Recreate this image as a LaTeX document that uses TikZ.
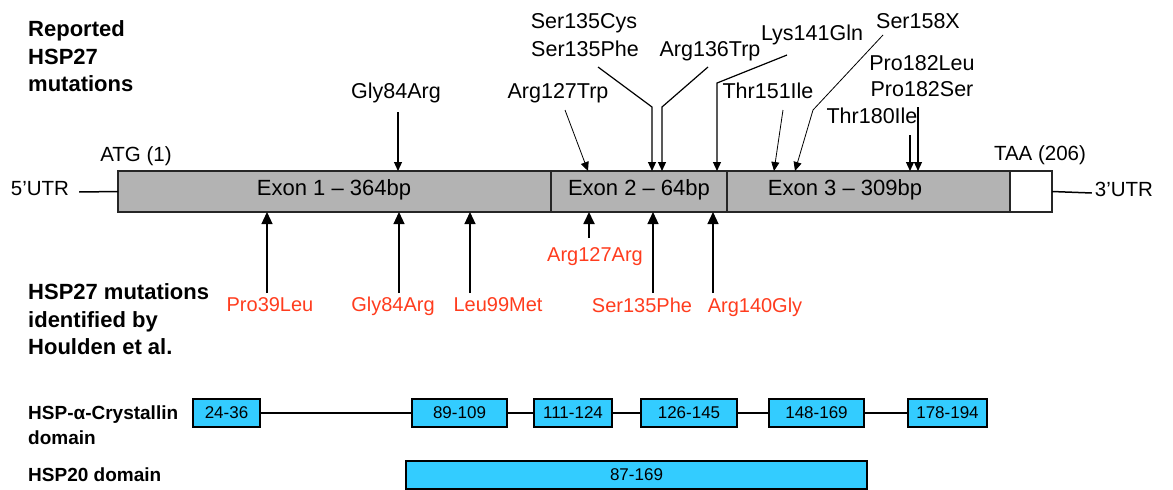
\documentclass[tikz,border=0pt]{standalone}
\usepackage{fontspec}
\setmainfont{Liberation Sans}
\usetikzlibrary{arrows.meta}
\definecolor{exgray}{RGB}{179,179,179}
\definecolor{domblue}{RGB}{51,204,255}
\definecolor{mutred}{RGB}{255,60,30}
\begin{document}
\begin{tikzpicture}[x=1pt,y=-1pt,
  lab/.style={font=\fontsize{21.5}{25}\selectfont, inner sep=0pt, text height=0.716em, text depth=0pt},
  redlab/.style={font=\fontsize{20}{24}\selectfont, text=mutred, inner sep=0pt, text height=0.716em, text depth=0pt},
  exlab/.style={font=\fontsize{22}{25}\selectfont, inner sep=0pt, text height=0.716em, text depth=0pt},
  hd/.style={font=\bfseries\fontsize{22}{27.5}\selectfont, align=left, anchor=north west, inner sep=0pt},
  dhd/.style={font=\bfseries\fontsize{19}{25}\selectfont, align=left, anchor=north west, inner sep=0pt},
  exbox/.style={draw=black!85, line width=1.6pt, fill=exgray, minimum height=41pt, inner sep=0pt, outer sep=0pt},
  dbox/.style={draw=black, line width=1.5pt, fill=domblue, minimum height=28pt, inner sep=0pt, outer sep=0pt, font=\fontsize{17}{20}\selectfont},
  dn/.style={line width=1.2pt, -{Triangle[width=8pt,length=9pt]}},
  dnthin/.style={line width=0.8pt, -{Triangle[width=8pt,length=9pt]}},
  up/.style={line width=1.2pt, -{Triangle[width=11pt,length=12pt]}},
  conn/.style={line width=1.5pt}
]
\useasboundingbox (0,0) rectangle (1173,490);

% left headings
\node[hd] (rep) at (28,20.5) {Reported\\HSP27\\mutations};
\node[hd] (houl) at (28,283.5) {HSP27 mutations\\identified by\\Houlden et al.};
\node[dhd] (cryst) at (28,406) {HSP-α-Crystallin\\domain};
\node[font=\bfseries\fontsize{19}{25}\selectfont, anchor=west, inner sep=0pt, text height=0.716em, text depth=0pt] (h20) at (28,478) {HSP20 domain};

% gene bar
\node[exbox, minimum width=433pt] (ex1) at (334.5,191.5) {};
\node[exbox, minimum width=176pt] (ex2) at (639,191.5) {};
\node[exbox, minimum width=283pt] (ex3) at (868.5,191.5) {};
\node[exbox, minimum width=42pt, fill=white] (utrb) at (1031,191.5) {};
\node[exlab] (ex1t) at (334,192) {Exon 1 – 364bp};
\node[exlab] (ex2t) at (639,192) {Exon 2 – 64bp};
\node[exlab] (ex3t) at (845,192) {Exon 3 – 309bp};

\node[lab, font=\fontsize{20.5}{24}\selectfont] (u5) at (40,192) {5’UTR};
\node[lab, font=\fontsize{20.5}{24}\selectfont] (u3) at (1124,193) {3’UTR};
\draw[conn] ([xshift=10pt]u5.east) -- (ex1.west);
\draw[conn] (utrb.east) -- ([xshift=-3pt]u3.west);
\node[lab, font=\fontsize{20.5}{24}\selectfont] (atg) at (136,158) {ATG (1)};
\node[lab, font=\fontsize{20.5}{24}\selectfont] (taa) at (1040,157) {TAA (206)};

% reported mutations (top)
\node[lab] (g84t) at (396,95) {Gly84Arg};
\node[lab] (a127t) at (558,95) {Arg127Trp};
\node[lab] (s135c) at (584,25) {Ser135Cys};
\node[lab] (s135p) at (585,53) {Ser135Phe};
\node[lab] (a136) at (710,53) {Arg136Trp};
\node[lab] (l141) at (812,37) {Lys141Gln};
\node[lab] (s158) at (918,25) {Ser158X};
\node[lab] (t151) at (768,95) {Thr151Ile};
\node[lab] (p182l) at (922,67) {Pro182Leu};
\node[lab] (p182s) at (922,93) {Pro182Ser};
\node[lab] (t180) at (872,120) {Thr180Ile};

\coordinate (sg84) at (398,112);   \coordinate (eg84) at (398,171);
\coordinate (sa127) at (565,110);  \coordinate (ea127) at (588,171);
\coordinate (ss135) at (598,67);   \coordinate (bs135) at (652,107); \coordinate (es135) at (652,171);
\coordinate (sa136) at (708,67);   \coordinate (ba136) at (662,107); \coordinate (ea136) at (662,171);
\coordinate (sl141) at (787,55);   \coordinate (bl141) at (717,83);  \coordinate (el141) at (717,171);
\coordinate (ss158) at (883,35);   \coordinate (bs158) at (813,110); \coordinate (es158) at (795,171);
\coordinate (st151) at (783,110);  \coordinate (et151) at (774,171);
\coordinate (sp182) at (918,107);  \coordinate (ep182) at (918,171);
\coordinate (st180) at (910,135);  \coordinate (et180) at (910,171);

\draw[dn] (sg84) -- (eg84);
\draw[dnthin] (sa127) -- (ea127);
\draw[dn] (ss135) -- (bs135) -- (es135);
\draw[dn] (sa136) -- (ba136) -- (ea136);
\draw[dn] (sl141) -- (bl141) -- (el141);
\draw[dnthin] (ss158) -- (bs158) -- (es158);
\draw[dnthin] (st151) -- (et151);
\draw[dn] (sp182) -- (ep182);
\draw[dn] (st180) -- (et180);

% Houlden mutations (bottom)
\node[redlab] (p39) at (270,308) {Pro39Leu};
\node[redlab] (g84b) at (393,308) {Gly84Arg};
\node[redlab] (l99) at (498,308) {Leu99Met};
\node[redlab] (a127r) at (595,258) {Arg127Arg};
\node[redlab] (s135b) at (642,309) {Ser135Phe};
\node[redlab] (a140) at (755,309) {Arg140Gly};

\coordinate (sp39) at (267,293);  \coordinate (ep39) at (267,212);
\coordinate (sg84b) at (399,293); \coordinate (eg84b) at (399,212);
\coordinate (sl99) at (470,293);  \coordinate (el99) at (470,212);
\coordinate (sa127r) at (589,238);\coordinate (ea127r) at (589,212);
\coordinate (ss135b) at (653,293);\coordinate (es135b) at (653,212);
\coordinate (sa140) at (713,293); \coordinate (ea140) at (713,212);

\draw[up] (sp39) -- (ep39);
\draw[up] (sg84b) -- (eg84b);
\draw[up] (sl99) -- (el99);
\draw[up, line width=1.8pt] (sa127r) -- (ea127r);
\draw[up] (ss135b) -- (es135b);
\draw[up] (sa140) -- (ea140);

% domains
\node[dbox, minimum width=67pt] (d1) at (226.5,413) {24-36};
\node[dbox, minimum width=95pt] (d2) at (459.5,413) {89-109};
\node[dbox, minimum width=78pt] (d3) at (573,413) {111-124};
\node[dbox, minimum width=96pt] (d4) at (689,413) {126-145};
\node[dbox, minimum width=95pt] (d5) at (816.5,413) {148-169};
\node[dbox, minimum width=79pt] (d6) at (947.5,413) {178-194};
\draw[conn] (d1.east) -- (d2.west);
\draw[conn] (d2.east) -- (d3.west);
\draw[conn] (d3.east) -- (d4.west);
\draw[conn] (d4.east) -- (d5.west);
\draw[conn] (d5.east) -- (d6.west);
\node[dbox, minimum width=461pt] (h20box) at (636.5,475) {87-169};
\end{tikzpicture}
\end{document}
